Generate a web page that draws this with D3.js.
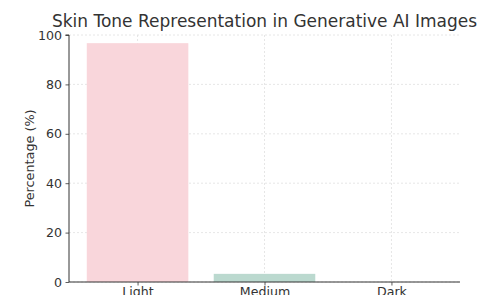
<!DOCTYPE html>
<html><head><meta charset="utf-8">
<script src="https://cdn.jsdelivr.net/npm/d3@7"></script>
<style>body{margin:0;background:#fff}svg{display:block}</style>
</head><body>
<svg id="c" width="477" height="295"></svg>
<script>
const categories = ["Light", "Medium", "Dark"];
const values = [96.7, 3.3, 0];
const colors = ["#f9d6db", "#bbd9cf", "#c9c9e6"];
const yTicks = [0, 20, 40, 60, 80, 100];

const W = 477, H = 295;
const m = {left: 69, right: 17, top: 35, bottom: 13};
const svg = d3.select("#c");
const font = "DejaVu Sans, sans-serif";
const txt = "#333";

const x = d3.scaleLinear().domain([-0.54, 2.54]).range([m.left, W - m.right]);
const y = d3.scaleLinear().domain([0, 100]).range([H - m.bottom, m.top]);

// grid
svg.append("g").selectAll("line").data(yTicks).join("line")
  .attr("x1", m.left).attr("x2", W - m.right)
  .attr("y1", d => y(d)).attr("y2", d => y(d))
  .attr("stroke", "#e0e0e0").attr("stroke-width", 0.8).attr("stroke-dasharray", "2,2");
svg.append("g").selectAll("line").data(categories).join("line")
  .attr("x1", (d, i) => x(i)).attr("x2", (d, i) => x(i))
  .attr("y1", m.top).attr("y2", H - m.bottom)
  .attr("stroke", "#e0e0e0").attr("stroke-width", 0.8).attr("stroke-dasharray", "2,2");

// bars
svg.append("g").selectAll("rect").data(values).join("rect")
  .attr("x", (d, i) => x(i - 0.4)).attr("width", x(0.4) - x(-0.4))
  .attr("y", d => y(d)).attr("height", d => y(0) - y(d))
  .attr("fill", (d, i) => colors[i]);

// axes
const ya = svg.append("g").attr("transform", `translate(${m.left},0)`)
  .call(d3.axisLeft(y).tickValues(yTicks).tickSize(3.5).tickPadding(3.5));
const xa = svg.append("g").attr("transform", `translate(0,${H - m.bottom})`)
  .call(d3.axisBottom(x).tickValues([0, 1, 2]).tickFormat(i => categories[i]).tickSize(3.5).tickPadding(2));
[ya, xa].forEach(g => {
  g.select(".domain").attr("stroke", "#333").attr("stroke-width", 1);
  g.selectAll(".tick line").attr("stroke", "#333").attr("stroke-width", 0.8);
  g.selectAll("text").attr("fill", txt).style("font-family", font).style("font-size", "12.6px");
});
ya.select(".domain").attr("d", `M-3.5,${y(100)}H0V${y(0)}`);
xa.select(".domain").attr("d", `M${m.left},0H${W - m.right}`);

// labels
svg.append("text").attr("transform", `translate(34,${(y(0) + y(100)) / 2}) rotate(-90)`)
  .attr("text-anchor", "middle").attr("fill", txt)
  .style("font-family", font).style("font-size", "12.8px").text("Percentage (%)");
svg.append("text").attr("x", (m.left + W - m.right) / 2).attr("y", 26.5)
  .attr("text-anchor", "middle").attr("fill", txt)
  .style("font-family", font).style("font-size", "17px")
  .text("Skin Tone Representation in Generative AI Images");
</script>
</body></html>
